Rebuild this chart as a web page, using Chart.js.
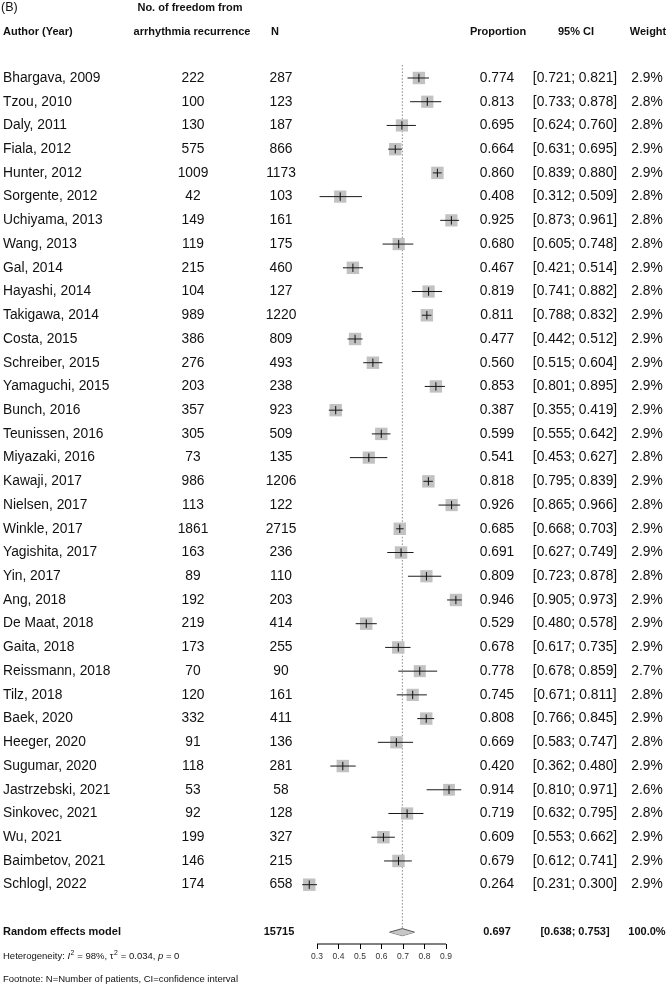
<!DOCTYPE html>
<html><head><meta charset="utf-8">
<script src="https://cdn.jsdelivr.net/npm/chart.js@4.4.1/dist/chart.umd.min.js"></script>
<style>html,body{margin:0;padding:0;background:#fff;overflow:hidden}#wrap{width:668px;height:988px}</style>
</head><body><div id="wrap"><canvas id="c" width="668" height="988"></canvas></div>
<script>
// ---------- DATA ----------
const authors = ["Bhargava, 2009","Tzou, 2010","Daly, 2011","Fiala, 2012","Hunter, 2012","Sorgente, 2012","Uchiyama, 2013","Wang, 2013","Gal, 2014","Hayashi, 2014","Takigawa, 2014","Costa, 2015","Schreiber, 2015","Yamaguchi, 2015","Bunch, 2016","Teunissen, 2016","Miyazaki, 2016","Kawaji, 2017","Nielsen, 2017","Winkle, 2017","Yagishita, 2017","Yin, 2017","Ang, 2018","De Maat, 2018","Gaita, 2018","Reissmann, 2018","Tilz, 2018","Baek, 2020","Heeger, 2020","Sugumar, 2020","Jastrzebski, 2021","Sinkovec, 2021","Wu, 2021","Baimbetov, 2021","Schlogl, 2022"];
const events = [222,100,130,575,1009,42,149,119,215,104,989,386,276,203,357,305,73,986,113,1861,163,89,192,219,173,70,120,332,91,118,53,92,199,146,174];
const totals = [287,123,187,866,1173,103,161,175,460,127,1220,809,493,238,923,509,135,1206,122,2715,236,110,203,414,255,90,161,411,136,281,58,128,327,215,658];
const proportions = [0.774,0.813,0.695,0.664,0.860,0.408,0.925,0.680,0.467,0.819,0.811,0.477,0.560,0.853,0.387,0.599,0.541,0.818,0.926,0.685,0.691,0.809,0.946,0.529,0.678,0.778,0.745,0.808,0.669,0.420,0.914,0.719,0.609,0.679,0.264];
const ciLower = [0.721,0.733,0.624,0.631,0.839,0.312,0.873,0.605,0.421,0.741,0.788,0.442,0.515,0.801,0.355,0.555,0.453,0.795,0.865,0.668,0.627,0.723,0.905,0.480,0.617,0.678,0.671,0.766,0.583,0.362,0.810,0.632,0.553,0.612,0.231];
const ciUpper = [0.821,0.878,0.760,0.695,0.880,0.509,0.961,0.748,0.514,0.882,0.832,0.512,0.604,0.895,0.419,0.642,0.627,0.839,0.966,0.703,0.749,0.878,0.973,0.578,0.735,0.859,0.811,0.845,0.747,0.480,0.971,0.795,0.662,0.741,0.300];
const weights = [2.9,2.8,2.8,2.9,2.9,2.8,2.8,2.8,2.9,2.8,2.9,2.9,2.9,2.9,2.9,2.9,2.8,2.9,2.8,2.9,2.9,2.8,2.9,2.9,2.9,2.7,2.8,2.9,2.8,2.9,2.6,2.8,2.9,2.9,2.9];
const pooledLabel = "Random effects model";
const pooledTotal = 15715;
const pooledEstimate = 0.697;
const pooledLower = 0.638;
const pooledUpper = 0.753;
const pooledWeight = 100.0;
const heteroI2 = "98%";
const heteroTau2 = "0.034";
const heteroP = "0";
const xTicks = [0.3,0.4,0.5,0.6,0.7,0.8,0.9];
const footnote = "Footnote: N=Number of patients, CI=confidence interval";

// ---------- LAYOUT / STYLE ----------
const FONT = "'Liberation Sans', Arial, Helvetica, sans-serif";
const COL = {author:3, events:193, total:281, totalHead:275, prop:497, ci:575, weight:647};
const ROW_FONT = 13.8, HEAD_FONT = 11, SMALL_FONT = 9.5;
const Y_MIN = -3.287, Y_MAX = 36.5;            // row units; Y_MAX is the axis line
const pooledRow = authors.length + 1;          // one blank row before the summary
const headRow1 = -2.97, headRow2 = -1.94;      // header lines (row units)
const heteroRow = 37.04, footRow = 37.97;
const refTop = -0.55, diamondHalf = 0.15;
const boxSide = w => 7.3 * Math.sqrt(w);

const rowIdx = authors.map((_, i) => i);
const datasets = [];

// study CI lines
rowIdx.forEach(i => datasets.push({
  type: 'line', data: [{x: ciLower[i], y: i}, {x: ciUpper[i], y: i}],
  borderColor: '#1a1a1a', borderWidth: 1, pointRadius: 0, clip: false, order: 1
}));
// estimate ticks
datasets.push({
  type: 'scatter', data: rowIdx.map(i => ({x: proportions[i], y: i})),
  pointStyle: 'line', rotation: 90, pointRadius: 4.2, borderColor: '#111', borderWidth: 1,
  backgroundColor: '#111', clip: false, order: 0
});
// boxes
datasets.push({
  type: 'scatter', data: rowIdx.map(i => ({x: proportions[i], y: i})),
  pointStyle: 'rect', pointRadius: ctx => boxSide(weights[ctx.dataIndex]) / Math.SQRT2,
  backgroundColor: '#c2c2c2', borderWidth: 0, clip: false, order: 3
});
// reference dotted line
datasets.push({
  type: 'line', data: [{x: pooledEstimate, y: refTop}, {x: pooledEstimate, y: pooledRow - diamondHalf}],
  borderColor: '#7a7a7a', borderWidth: 0.9, borderDash: [1.5, 1.8], pointRadius: 0, clip: false, order: 4
});
// diamond (upper half fills to lower half)
datasets.push({
  type: 'line', data: [{x: pooledLower, y: pooledRow}, {x: pooledEstimate, y: pooledRow - diamondHalf}, {x: pooledUpper, y: pooledRow}],
  borderColor: '#444', borderWidth: 0.9, pointRadius: 0, tension: 0, fill: '+1', backgroundColor: '#c6c6c6', clip: false, order: 2
});
datasets.push({
  type: 'line', data: [{x: pooledLower, y: pooledRow}, {x: pooledEstimate, y: pooledRow + diamondHalf}, {x: pooledUpper, y: pooledRow}],
  borderColor: '#444', borderWidth: 0.9, pointRadius: 0, tension: 0, fill: false, clip: false, order: 2
});
// axis line spanning the tick range
datasets.push({
  type: 'line', data: [{x: xTicks[0], y: Y_MAX}, {x: xTicks[xTicks.length - 1], y: Y_MAX}],
  borderColor: '#000', borderWidth: 1, pointRadius: 0, clip: false, order: 0
});

function txt(ctx, s, x, y, align, size, weight, style) {
  ctx.font = (style || '') + ' ' + (weight || 'normal') + ' ' + size + 'px ' + FONT;
  ctx.textAlign = align; ctx.textBaseline = 'middle';
  ctx.fillText(s, x, y);
}

const tablePlugin = {
  id: 'tableText',
  afterDraw(chart) {
    const ctx = chart.ctx, ys = chart.scales.y;
    ctx.save();
    ctx.fillStyle = '#111';
    txt(ctx, '(B)', 1, ys.getPixelForValue(headRow1), 'left', 12.5);
    txt(ctx, 'No. of freedom from', COL.events - 3, ys.getPixelForValue(headRow1), 'center', HEAD_FONT, 'bold');
    const h2 = ys.getPixelForValue(headRow2);
    txt(ctx, 'Author (Year)', COL.author, h2, 'left', HEAD_FONT, 'bold');
    txt(ctx, 'arrhythmia recurrence', COL.events - 1, h2, 'center', HEAD_FONT, 'bold');
    txt(ctx, 'N', COL.totalHead, h2, 'center', HEAD_FONT, 'bold');
    txt(ctx, 'Proportion', COL.prop + 1, h2, 'center', HEAD_FONT, 'bold');
    txt(ctx, '95% CI', COL.ci + 1, h2, 'center', HEAD_FONT, 'bold');
    txt(ctx, 'Weight', COL.weight + 1, h2, 'center', HEAD_FONT, 'bold');
    rowIdx.forEach(i => {
      const y = ys.getPixelForValue(i);
      txt(ctx, authors[i], COL.author, y, 'left', ROW_FONT);
      txt(ctx, String(events[i]), COL.events, y, 'center', ROW_FONT);
      txt(ctx, String(totals[i]), COL.total, y, 'center', ROW_FONT);
      txt(ctx, proportions[i].toFixed(3), COL.prop, y, 'center', ROW_FONT);
      txt(ctx, '[' + ciLower[i].toFixed(3) + '; ' + ciUpper[i].toFixed(3) + ']', COL.ci, y, 'center', ROW_FONT);
      txt(ctx, weights[i].toFixed(1) + '%', COL.weight, y, 'center', ROW_FONT);
    });
    const py = ys.getPixelForValue(pooledRow);
    txt(ctx, pooledLabel, COL.author, py, 'left', HEAD_FONT, 'bold');
    txt(ctx, String(pooledTotal), COL.total - 2, py, 'center', HEAD_FONT, 'bold');
    txt(ctx, pooledEstimate.toFixed(3), COL.prop, py, 'center', HEAD_FONT, 'bold');
    txt(ctx, '[' + pooledLower.toFixed(3) + '; ' + pooledUpper.toFixed(3) + ']', COL.ci, py, 'center', HEAD_FONT, 'bold');
    txt(ctx, pooledWeight.toFixed(1) + '%', COL.weight, py, 'center', HEAD_FONT, 'bold');
    const hy = ys.getPixelForValue(heteroRow);
    const segs = [
      {t: 'Heterogeneity: '}, {t: 'I', it: true}, {t: '2', sup: true}, {t: ' = ' + heteroI2 + ', '},
      {t: '\u03C4'}, {t: '2', sup: true}, {t: ' = ' + heteroTau2 + ', '}, {t: 'p', it: true}, {t: ' = ' + heteroP}
    ];
    let x = COL.author;
    segs.forEach(s => {
      const size = s.sup ? SMALL_FONT * 0.72 : SMALL_FONT;
      ctx.font = (s.it ? 'italic ' : '') + size + 'px ' + FONT;
      ctx.textAlign = 'left'; ctx.textBaseline = 'middle';
      ctx.fillText(s.t, x + (s.sup ? 0.5 : 0), s.sup ? hy - 3.8 : hy);
      x += ctx.measureText(s.t).width + (s.sup ? 0.8 : 0);
    });
    txt(ctx, footnote, COL.author, ys.getPixelForValue(footRow), 'left', SMALL_FONT);
    ctx.restore();
  }
};

new Chart(document.getElementById('c'), {
  type: 'scatter',
  data: {datasets},
  options: {
    responsive: false, animation: false, events: [],
    layout: {autoPadding: false, padding: {left: 295.5, right: 200.5, top: 0, bottom: 0}},
    plugins: {legend: {display: false}, tooltip: {enabled: false}},
    scales: {
      x: {
        type: 'linear', position: 'bottom', min: 0.2, max: 1.0,
        afterBuildTicks: s => { s.ticks = xTicks.map(v => ({value: v})); },
        afterFit: s => { s.height = 44; },
        grid: {drawOnChartArea: false, drawTicks: true, tickLength: 5, color: '#000', lineWidth: 1},
        border: {display: false},
        ticks: {font: {size: 8.5, family: FONT}, color: '#333', padding: 3, autoSkip: false, maxRotation: 0,
                callback: v => Number(v).toFixed(1)}
      },
      y: {type: 'linear', display: false, reverse: true, min: Y_MIN, max: Y_MAX}
    }
  },
  plugins: [tablePlugin]
});
</script></body></html>
